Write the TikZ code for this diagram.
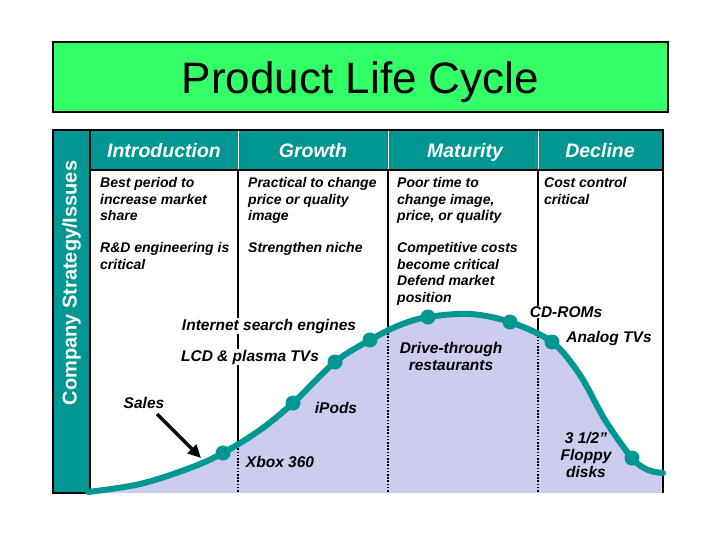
\documentclass[tikz,border=0pt]{standalone}
\usepackage{fontspec}
\setmainfont{Liberation Sans}
\usetikzlibrary{arrows.meta}

\definecolor{titlegreen}{RGB}{51,255,102}
\definecolor{plcteal}{RGB}{0,150,145}
\definecolor{plclavender}{RGB}{204,204,238}

\begin{document}
\begin{tikzpicture}[x=1pt, y=-1pt,
  headtext/.style={anchor=base, text=white, font=\fontsize{19.5}{22}\selectfont\bfseries\itshape},
  bodytext/.style={anchor=north west, align=left, inner sep=0pt,
    font=\fontsize{14}{16.8}\selectfont\bfseries\itshape},
  curvelabel/.style={align=center, inner sep=1pt,
    font=\fontsize{15.5}{17}\selectfont\bfseries\itshape},
  border/.style={draw=black, line width=1.3pt},
  stageline/.style={line width=1.4pt},
  stagedots/.style={line width=1.4pt, dash pattern=on 1.6pt off 1.6pt},
  marker/.style={fill=plcteal}
]

% Parameters
\def\xL{90}     % left edge of the table
\def\xR{663}    % right edge of the table
\def\yH{130}    % top of header bar
\def\yB{170}    % bottom of header bar
\def\yF{493}    % floor of the sales area
\def\curvepath{plot[smooth, tension=0.55] coordinates {
  (88,492) (140,484) (190,468) (223,453) (260,430) (293,403) (335,362)
  (370,340) (400,325) (428,317) (470,314) (510,322) (552,342) (580,375)
  (605,420) (632,458) (648,470) (663,473)}}

\useasboundingbox (0,0) rectangle (720,540);

% Title
\node[draw=black, line width=1.2pt, fill=titlegreen, minimum width=615pt,
  minimum height=70pt, font=\fontsize{44}{50}\selectfont] (title) at (360.5,77) {};
\node[anchor=base, font=\fontsize{44}{50}\selectfont] (titletext) at (360.5,94) {Product Life Cycle};

% Stage boundaries (solid part)
\foreach \xs in {238,388,538}
  \draw[stageline] (\xs,\yB) -- (\xs,\yF);

% Area under the sales curve
\fill[plclavender] \curvepath -- (\xR,\yF) -- (88,\yF) -- cycle;

% Stage boundaries (dotted part, inside the area)
\begin{scope}
  \clip \curvepath -- (\xR,\yF) -- (88,\yF) -- cycle;
  \foreach \xs in {238,388,538}
    \draw[stagedots] (\xs,\yB) -- (\xs,\yF);
\end{scope}

% Right border
\draw[border] (\xR,\yB) -- (\xR,\yF);

% Side column
\filldraw[border, fill=plcteal] (53,\yH) rectangle (\xL,\yF);
\node[rotate=90, text=white, font=\fontsize{20}{24}\selectfont\bfseries] (side)
  at (71.5,283) {Company Strategy/Issues};

% Header bar
\filldraw[border, fill=plcteal] (\xL,\yH) rectangle (\xR,\yB);
\foreach \xs in {238,388,538}
  \draw[white, line width=1pt] (\xs,\yH+1) -- (\xs,\yB-1);
\node[headtext] (hIntro)   at (164,158) {Introduction};
\node[headtext] (hGrowth)  at (313,158) {Growth};
\node[headtext] (hMature)  at (465,158) {Maturity};
\node[headtext] (hDecline) at (600,158) {Decline};

% Strategy texts
\node[bodytext] (introA)   at (100,177) {Best period to\\increase market\\share};
\node[bodytext] (introB)   at (100,242) {R\&D engineering is\\critical};
\node[bodytext] (growthA)  at (248,177) {Practical to change\\price or quality\\image};
\node[bodytext] (growthB)  at (248,242) {Strengthen niche};
\node[bodytext] (matureA)  at (397,177) {Poor time to\\change image,\\price, or quality};
\node[bodytext] (matureB)  at (397,242) {Competitive costs\\become critical\\Defend market\\position};
\node[bodytext] (declineA) at (544,177) {Cost control\\critical};

% Sales curve
\draw[plcteal, line width=6pt, line cap=round] \curvepath;

% Products on the curve
\coordinate (mXbox)     at (223,453);
\coordinate (mIpods)    at (293,403);
\coordinate (mLcd)      at (335,362);
\coordinate (mInternet) at (370,340);
\coordinate (mDrive)    at (428,317);
\coordinate (mPeak)     at (510,322);
\coordinate (mAnalog)   at (552,342);
\coordinate (mFloppy)   at (632,458);
\foreach \m in {mXbox,mIpods,mLcd,mInternet,mDrive,mPeak,mAnalog,mFloppy}
  \fill[marker] (\m) circle (7.5);

% Product labels
\node[curvelabel, fill=white] (lInternet) at (269,326) {Internet search engines};
\node[curvelabel, fill=white] (lLcd)      at (250,357) {LCD \& plasma TVs};
\node[curvelabel] (lSales)  at (144,403) {Sales};
\node[curvelabel] (lIpods)  at (336,408) {iPods};
\node[curvelabel] (lXbox)   at (280,462) {Xbox 360};
\node[curvelabel] (lDrive)  at (451,356) {Drive-through\\restaurants};
\node[curvelabel, fill=white] (lCdrom) at (566,312) {CD-ROMs};
\node[curvelabel] (lAnalog) at (609,338) {Analog TVs};
\node[curvelabel] (lFloppy) at (586,455) {3 1/2"\\Floppy\\disks};

% Sales arrow
\coordinate (arrowTail) at (157,414);
\coordinate (arrowHead) at (201,458);
\draw[line width=3.5pt, -{Triangle[length=13pt, width=12pt]}] (arrowTail) -- (arrowHead);

\end{tikzpicture}
\end{document}
